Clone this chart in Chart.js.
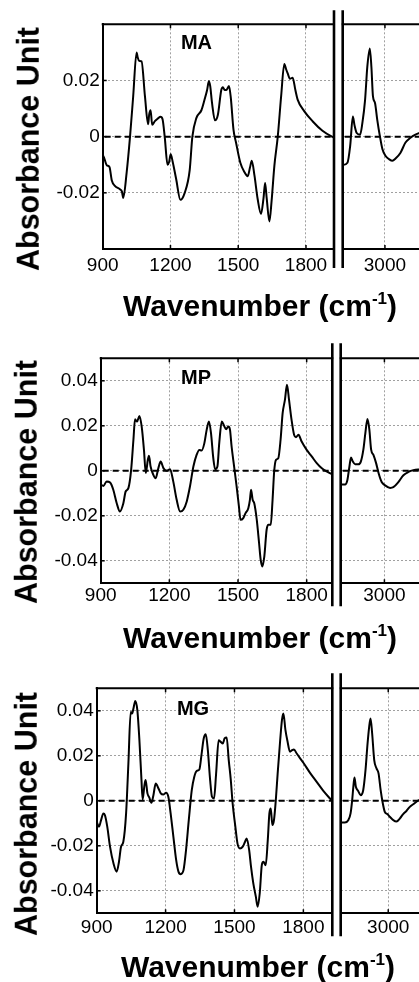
<!DOCTYPE html>
<html><head><meta charset="utf-8">
<script src="https://cdn.jsdelivr.net/npm/chart.js@4.4.1/dist/chart.umd.min.js"></script>
<style>
html,body{margin:0;padding:0;background:#fff;overflow:hidden;width:419px;height:982px;}
body{position:relative;font-family:"Liberation Sans",Arial,Helvetica,sans-serif;color:#000;}
canvas{position:absolute;}
.ytitle{position:absolute;font-weight:bold;font-size:30.5px;white-space:nowrap;transform:translate(-50%,-50%) rotate(-90deg);line-height:1;}
.xtitle{position:absolute;font-weight:bold;font-size:30px;white-space:nowrap;transform:translate(-50%,-50%);line-height:1;}
.xtitle sup{font-size:17px;vertical-align:0;position:relative;top:-12px;}
.plabel{position:absolute;font-weight:bold;font-size:20px;white-space:nowrap;transform:translate(-50%,-50%);line-height:1;}
</style></head><body>
<script>
// ---------- DATA ----------
const panelNames = ['MA', 'MP', 'MG'];
const yAxisTitle = 'Absorbance Unit';
const xAxisTitle = 'Wavenumber (cm';
const xAxisTitleSup = '-1';
const xTicksLow = [900, 1200, 1500, 1800];
const xTicksHigh = [3000];
const yTicksMA = [-0.02, 0, 0.02];
const yTicksMP = [-0.04, -0.02, 0, 0.02, 0.04];
const yTicksMG = [-0.04, -0.02, 0, 0.02, 0.04];

// MA
const maWnLow = [900,903,918,930,940,954,976,985,991,1006,1021,1035,1050,1055,1061,1072,1087,1101,1106,1112,1119,1131,1145,1156,1165,1175,1187,1194,1201,1210,1225,1244,1263,1285,1297,1315,1337,1351,1362,1370,1376,1384,1397,1410,1425,1432,1440,1447,1459,1467,1479,1490,1509,1528,1542,1552,1560,1572,1586,1601,1612,1619,1626,1638,1648,1660,1675,1690,1704,1712,1719,1729,1741,1753,1763,1792,1829,1873,1915,1924];
const maAbsLow = [-0.0068,-0.0069,-0.0102,-0.0108,-0.0155,-0.0175,-0.0187,-0.0195,-0.0218,-0.0128,0.0000,0.0144,0.0300,0.0282,0.0270,0.0268,0.0144,0.0044,0.0080,0.0094,0.0042,0.0055,0.0065,0.0071,0.0062,-0.0004,-0.0100,-0.0090,-0.0063,-0.0090,-0.0150,-0.0225,-0.0200,-0.0120,0.0000,0.0067,0.0094,0.0132,0.0165,0.0197,0.0180,0.0120,0.0058,0.0078,0.0166,0.0176,0.0166,0.0166,0.0180,0.0140,0.0025,-0.0020,-0.0092,-0.0127,-0.0141,-0.0110,-0.0086,-0.0139,-0.0222,-0.0275,-0.0219,-0.0165,-0.0219,-0.0302,-0.0226,-0.0104,0.0000,0.0144,0.0259,0.0240,0.0225,0.0206,0.0210,0.0166,0.0132,0.0091,0.0055,0.0021,0.0000,-0.0003];
const maWnHigh = [2813,2834,2846,2858,2865,2875,2890,2900,2912,2922,2933,2940,2947,2956,2966,2978,2989,3003,3018,3033,3047,3069,3091,3113,3135,3153,3175];
const maAbsHigh = [-0.0101,-0.0093,-0.0034,0.0072,0.0042,0.0013,0.0007,0.0048,0.0130,0.0249,0.0314,0.0249,0.0143,0.0120,0.0060,0.0000,-0.0045,-0.0069,-0.0080,-0.0086,-0.0078,-0.0057,-0.0021,-0.0004,0.0007,0.0013,0.0015];

// MP
const mpWnLow = [900,912,926,941,955,970,984,999,1009,1021,1033,1043,1050,1059,1069,1079,1089,1097,1106,1111,1118,1130,1140,1152,1162,1174,1188,1203,1217,1232,1247,1261,1276,1290,1305,1319,1331,1341,1353,1363,1373,1382,1392,1400,1410,1418,1429,1439,1448,1458,1465,1472,1483,1494,1504,1511,1523,1533,1545,1552,1557,1564,1571,1582,1592,1599,1606,1615,1625,1633,1643,1651,1658,1666,1676,1686,1695,1705,1714,1723,1734,1745,1753,1764,1778,1800,1822,1844,1865,1887,1906,1912];
const mpAbsLow = [-0.0062,-0.0067,-0.0047,-0.0052,-0.0084,-0.0144,-0.0181,-0.0144,-0.0092,-0.0077,0.0004,0.0138,0.0229,0.0219,0.0244,0.0197,0.0093,-0.0010,0.0049,0.0067,0.0019,-0.0018,-0.0033,0.0012,0.0041,0.0012,0.0000,0.0007,-0.0047,-0.0129,-0.0181,-0.0173,-0.0136,-0.0070,0.0019,0.0071,0.0093,0.0090,0.0123,0.0182,0.0219,0.0167,0.0056,0.0007,0.0019,0.0123,0.0219,0.0200,0.0185,0.0197,0.0182,0.0108,0.0019,-0.0070,-0.0158,-0.0218,-0.0210,-0.0188,-0.0166,-0.0129,-0.0084,-0.0129,-0.0144,-0.0218,-0.0321,-0.0395,-0.0425,-0.0380,-0.0262,-0.0240,-0.0240,-0.0129,-0.0003,0.0049,0.0056,0.0138,0.0256,0.0315,0.0382,0.0315,0.0226,0.0160,0.0149,0.0160,0.0130,0.0093,0.0064,0.0034,0.0012,-0.0003,-0.0013,-0.0016];
const mpWnHigh = [2809,2828,2838,2847,2854,2862,2872,2886,2897,2908,2917,2926,2934,2942,2952,2964,2975,2988,3003,3025,3039,3061,3083,3105,3127,3151,3175];
const mpAbsHigh = [-0.0061,-0.0061,-0.0042,0.0018,0.0059,0.0041,0.0029,0.0029,0.0041,0.0094,0.0170,0.0230,0.0185,0.0094,0.0071,0.0033,-0.0012,-0.0050,-0.0065,-0.0076,-0.0073,-0.0050,-0.0020,-0.0005,0.0003,0.0006,0.0007];

// MG
const mgWnLow = [900,910,919,929,936,946,958,973,987,997,1006,1016,1028,1038,1048,1054,1060,1068,1077,1086,1095,1100,1108,1113,1121,1129,1138,1147,1157,1169,1179,1190,1202,1212,1222,1234,1246,1256,1266,1278,1289,1301,1314,1325,1336,1347,1357,1366,1375,1384,1394,1402,1411,1420,1431,1440,1449,1457,1466,1475,1484,1492,1503,1513,1524,1536,1546,1553,1564,1572,1582,1593,1601,1610,1619,1626,1636,1645,1652,1658,1665,1672,1680,1688,1699,1707,1713,1722,1730,1742,1751,1759,1771,1800,1829,1858,1887,1909,1926];
const mgAbsLow = [-0.0093,-0.0115,-0.0086,-0.0056,-0.0064,-0.0115,-0.0204,-0.0278,-0.0315,-0.0271,-0.0204,-0.0182,-0.0056,0.0166,0.0395,0.0388,0.0410,0.0444,0.0403,0.0269,0.0092,0.0006,0.0070,0.0092,0.0033,0.0015,-0.0009,0.0025,0.0077,0.0055,0.0033,0.0028,0.0036,0.0018,-0.0056,-0.0160,-0.0263,-0.0315,-0.0326,-0.0308,-0.0219,-0.0086,0.0047,0.0107,0.0133,0.0139,0.0210,0.0277,0.0296,0.0225,0.0092,0.0018,0.0010,0.0121,0.0269,0.0262,0.0255,0.0277,0.0281,0.0181,0.0092,-0.0012,-0.0108,-0.0189,-0.0212,-0.0204,-0.0182,-0.0167,-0.0219,-0.0293,-0.0367,-0.0426,-0.0471,-0.0411,-0.0286,-0.0271,-0.0286,-0.0175,-0.0056,-0.0034,-0.0108,-0.0086,0.0003,0.0121,0.0269,0.0361,0.0388,0.0314,0.0269,0.0218,0.0225,0.0228,0.0210,0.0169,0.0124,0.0084,0.0044,0.0018,0.0000];
const mgWnHigh = [2793,2811,2826,2836,2843,2848,2853,2859,2869,2880,2891,2901,2910,2917,2923,2930,2939,2949,2958,2967,2975,2985,2996,3007,3022,3036,3051,3065,3080,3094,3109,3123,3134,3160];
const mgAbsHigh = [-0.0096,-0.0096,-0.0086,-0.0056,0.0003,0.0062,0.0104,0.0062,0.0044,0.0025,0.0047,0.0136,0.0255,0.0329,0.0366,0.0299,0.0181,0.0144,0.0121,0.0047,-0.0004,-0.0049,-0.0059,-0.0071,-0.0086,-0.0092,-0.0078,-0.0059,-0.0044,-0.0027,-0.0015,-0.0004,0.0003,0.0010];

// ---------- LAYOUT ----------
const FONT = '"Liberation Sans", Arial, Helvetica, sans-serif';
const layout = [
  {T:24.3, B:249,   L1:102.7, R1:334,   L2:342.7, xMaxLow:1924, xMinHigh:2813, yMin:-0.04, yMax:0.04, extTop:14, extBot:19, tickPad:5,
   label:[196.5,41.7], ytitle:[28,149], xtitle:[260,306]},
  {T:358.3, B:583.3, L1:100.7, R1:332.3, L2:340.7, xMaxLow:1912, xMinHigh:2809, yMin:-0.05, yMax:0.05, extTop:15, extBot:23, tickPad:1,
   label:[196,377], ytitle:[26,482], xtitle:[260,638]},
  {T:688.3, B:913.3, L1:96.7,  R1:332.3, L2:340.7, xMaxLow:1926, xMinHigh:2793, yMin:-0.05, yMax:0.05, extTop:15, extBot:23, tickPad:3,
   label:[193,708], ytitle:[26,814], xtitle:[258,967]}
];
const series = [
  {wnLow: maWnLow, absLow: maAbsLow, wnHigh: maWnHigh, absHigh: maAbsHigh, yTicks: yTicksMA},
  {wnLow: mpWnLow, absLow: mpAbsLow, wnHigh: mpWnHigh, absHigh: mpAbsHigh, yTicks: yTicksMP},
  {wnLow: mgWnLow, absLow: mgAbsLow, wnHigh: mgWnHigh, absHigh: mgAbsHigh, yTicks: yTicksMG}
];
const RR = 423;

const framePlugin = {
  id: 'frame',
  beforeDatasetsDraw(chart, args, o) {
    const {ctx, chartArea: a, scales: {y}} = chart;
    const y0 = y.getPixelForValue(0);
    ctx.save();
    ctx.beginPath(); ctx.rect(a.left, a.top - 5, a.right - a.left, a.bottom - a.top + 10); ctx.clip();
    ctx.strokeStyle = '#000'; ctx.lineWidth = 2; ctx.setLineDash([6, 4]);
    ctx.beginPath(); ctx.moveTo(a.left + 2, y0); ctx.lineTo(a.right, y0); ctx.stroke();
    ctx.restore();
  },
  afterDraw(chart, args, o) {
    const {ctx, chartArea: a, scales: {x, y}} = chart;
    const line = (x1, y1, x2, y2) => { ctx.beginPath(); ctx.moveTo(x1, y1); ctx.lineTo(x2, y2); ctx.stroke(); };
    ctx.save();
    ctx.strokeStyle = '#000'; ctx.setLineDash([]);
    ctx.lineWidth = 2;
    line(a.left - 1, a.top, a.right + 1, a.top);
    ctx.lineWidth = 1.5;
    x.ticks.forEach(t => {
      const px = x.getPixelForValue(t.value);
      if (px > a.left + 3 && px < a.right - 3) { line(px, a.top, px, a.top + 4); line(px, a.bottom, px, a.bottom - 4); }
    });
    if (o.side === 'low') {
      y.ticks.forEach(t => { const py = y.getPixelForValue(t.value); line(a.left, py, a.left + 4, py); });
    }
    const bx = o.side === 'low' ? a.right : a.left;
    ctx.lineWidth = 2.6;
    line(bx, a.top - o.extTop, bx, a.bottom + o.extBot);
    ctx.restore();
  }
};

function addText(cls, html, x, y) {
  const d = document.createElement('div');
  d.className = cls; d.innerHTML = html;
  d.style.left = x + 'px'; d.style.top = y + 'px';
  document.body.appendChild(d);
}

function makeChart(side, g, s) {
  const isLow = side === 'low';
  const cv = document.createElement('canvas');
  const top = Math.floor(g.T - 22);
  const height = Math.ceil(g.B - top + 48);
  let left, width, padL, padR, xMin, xMax, yW;
  const pxPerUnit = (g.R1 - g.L1) / (g.xMaxLow - 900);
  if (isLow) {
    left = 0; width = Math.ceil(g.R1 + 5); padL = 0; padR = width - g.R1; xMin = 900; xMax = g.xMaxLow; yW = g.L1;
  } else {
    left = Math.floor(g.L2 - 5); width = 440 - left; padL = g.L2 - left; padR = 440 - RR;
    xMin = g.xMinHigh; xMax = g.xMinHigh + (RR - g.L2) / pxPerUnit; yW = 0;
  }
  cv.width = width; cv.height = height;
  cv.style.left = left + 'px'; cv.style.top = top + 'px';
  cv.style.width = width + 'px'; cv.style.height = height + 'px';
  document.body.appendChild(cv);
  const padT = g.T - top;
  const xH = height - (g.B - top);
  const wn = isLow ? s.wnLow : s.wnHigh;
  const ab = isLow ? s.absLow : s.absHigh;
  const xt = isLow ? xTicksLow : xTicksHigh;
  return new Chart(cv, {
    type: 'line',
    data: { datasets: [{
      data: wn.map((w, i) => ({x: w, y: ab[i]})),
      borderColor: '#000', borderWidth: 2, pointRadius: 0,
      cubicInterpolationMode: 'monotone', fill: false
    }]},
    options: {
      responsive: false, animation: false, devicePixelRatio: 1,
      layout: { padding: {top: padT, bottom: 0, left: padL, right: padR} },
      plugins: { legend: {display: false}, tooltip: {enabled: false}, frame: {side, extTop: g.extTop, extBot: g.extBot} },
      scales: {
        x: {
          type: 'linear', min: xMin, max: xMax,
          afterBuildTicks: sc => { sc.ticks = xt.map(v => ({value: v})); },
          afterFit: sc => { sc.height = xH; },
          ticks: { color: '#000', font: {family: FONT, size: 19}, padding: g.tickPad, maxRotation: 0, autoSkip: false,
                   callback: v => String(v) },
          grid: { color: '#a0a0a0', lineWidth: 1, drawTicks: false },
          border: { display: true, color: '#000', width: 2, dash: [2, 2] }
        },
        y: {
          min: g.yMin, max: g.yMax,
          afterBuildTicks: sc => { sc.ticks = s.yTicks.map(v => ({value: v})); },
          afterFit: sc => { sc.width = yW; },
          ticks: { display: isLow, color: '#000', font: {family: FONT, size: 19}, padding: 3,
                   callback: v => (v === 0 ? '0' : v.toFixed(2)) },
          grid: { color: '#a0a0a0', lineWidth: 1, drawTicks: false },
          border: { display: isLow, color: '#000', width: 2, dash: [2, 2] }
        }
      }
    },
    plugins: [framePlugin]
  });
}

layout.forEach((g, i) => {
  makeChart('low', g, series[i]);
  makeChart('high', g, series[i]);
  addText('plabel', panelNames[i], g.label[0], g.label[1]);
  addText('ytitle', yAxisTitle, g.ytitle[0], g.ytitle[1]);
  addText('xtitle', xAxisTitle + '<sup>' + xAxisTitleSup + '</sup>)', g.xtitle[0], g.xtitle[1]);
});
</script>
</body></html>
